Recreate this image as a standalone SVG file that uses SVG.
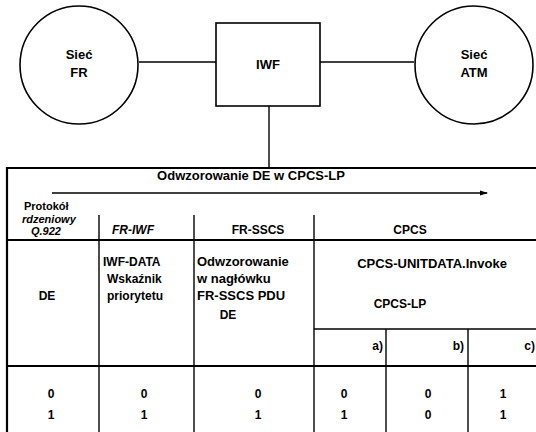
<svg xmlns="http://www.w3.org/2000/svg" width="536" height="432" viewBox="0 0 536 432">
<style>
text{font-family:"Liberation Sans",Arial,sans-serif;font-size:12px;font-weight:bold;fill:#000}
.m{text-anchor:middle}
.e{text-anchor:end}
.i{font-style:italic}
.s{font-size:11px}
.b{font-size:13px}
.ln{stroke:#000;stroke-width:1.4;fill:none}
.tk{stroke:#000;stroke-width:2.2;fill:none}
.sh{fill:#fff;stroke:#000;stroke-width:1.6}
</style>
<defs>
<marker id="ah" markerWidth="8" markerHeight="6" refX="7" refY="3" orient="auto" markerUnits="userSpaceOnUse">
<path d="M0,0.5 L8,3 L0,5.5 Z" fill="#000"/>
</marker>
</defs>
<g id="connectors">
<line class="ln" x1="139" y1="62" x2="216" y2="62"/>
<line class="ln" x1="320" y1="62" x2="414" y2="62"/>
<line class="ln" x1="269" y1="106" x2="269" y2="168"/>
</g>
<g id="siec-fr">
<circle class="sh" cx="79" cy="65" r="59"/>
<text class="m b" x="79" y="59">Sieć</text>
<text class="m b" x="79" y="77">FR</text>
</g>
<g id="iwf">
<rect class="sh" x="216" y="23" width="104" height="83"/>
<text class="m b" x="268" y="69">IWF</text>
</g>
<g id="siec-atm">
<circle class="sh" cx="474" cy="65" r="59"/>
<text class="m b" x="474" y="59">Sieć</text>
<text class="m b" x="474" y="77">ATM</text>
</g>
<g id="table">
<line class="tk" x1="7" y1="168" x2="536" y2="168"/>
<line class="tk" x1="7" y1="167" x2="7" y2="432"/>
<text class="m b" x="251" y="180">Odwzorowanie DE w CPCS-LP</text>
<line class="ln" x1="52" y1="193" x2="487" y2="193" marker-end="url(#ah)"/>
<line class="tk" x1="8" y1="240" x2="536" y2="240"/>
<line class="ln" x1="99" y1="215" x2="99" y2="432"/>
<line class="ln" x1="194" y1="215" x2="194" y2="432"/>
<line class="ln" x1="314" y1="215" x2="314" y2="432"/>
<line class="ln" x1="314" y1="329" x2="536" y2="329"/>
<line class="ln" x1="386" y1="329" x2="386" y2="432"/>
<line class="ln" x1="468" y1="329" x2="468" y2="432"/>
<line class="tk" x1="8" y1="366" x2="536" y2="366"/>
<text class="s" x="24" y="210">Protokół</text>
<text class="s i" x="22" y="222.5">rdzeniowy</text>
<text class="s i" x="31" y="235">Q.922</text>
<text class="i" x="112" y="234">FR-IWF</text>
<text class="m" x="258" y="234">FR-SSCS</text>
<text class="m" x="410" y="234">CPCS</text>
<text x="103" y="266">IWF-DATA</text>
<text x="107" y="283">Wskaźnik</text>
<text x="107" y="300">priorytetu</text>
<text class="m" x="47" y="300">DE</text>
<text class="b" x="197" y="266">Odwzorowanie</text>
<text class="b" x="197" y="283">w nagłówku</text>
<text class="b" x="197" y="300">FR-SSCS PDU</text>
<text class="m" x="228" y="319">DE</text>
<text class="m b" x="432" y="268">CPCS-UNITDATA.Invoke</text>
<text class="m" x="400" y="308">CPCS-LP</text>
<text class="e" x="383" y="350">a)</text>
<text class="e" x="464" y="350">b)</text>
<text class="e" x="535" y="350">c)</text>
<text class="m" x="51" y="398">0</text>
<text class="m" x="51" y="419">1</text>
<text class="m" x="144" y="398">0</text>
<text class="m" x="144" y="419">1</text>
<text class="m" x="258" y="398">0</text>
<text class="m" x="258" y="419">1</text>
<text class="m" x="344" y="398">0</text>
<text class="m" x="344" y="419">1</text>
<text class="m" x="428" y="398">0</text>
<text class="m" x="428" y="419">0</text>
<text class="m" x="503" y="398">1</text>
<text class="m" x="503" y="419">1</text>
</g>
</svg>
